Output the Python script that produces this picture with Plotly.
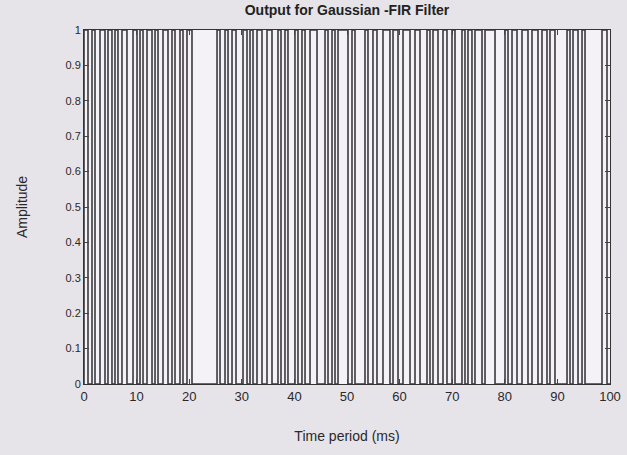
import plotly.graph_objects as go

# Transition times (ms) of the binary output
times = [0, 0.76, 1.52, 2.09, 3.04, 3.99, 4.56, 5.32, 5.89, 6.46, 7.22, 8.17, 9.32,
         10.08, 10.65, 11.22, 11.98, 12.93, 13.50, 14.07, 15.02, 15.97, 16.73, 17.30,
         18.25, 18.82, 19.58, 20.53, 21.10,
         25.29, 25.86, 26.81, 27.38, 28.14, 28.90, 30.23, 30.99, 31.56, 32.13, 32.89,
         33.84, 34.79, 35.74, 36.88, 37.45, 38.21, 38.78, 40.11, 40.68, 41.44, 42.02,
         42.97, 44.30, 45.82, 46.39, 47.15, 47.72, 48.29,
         50.19, 50.95, 51.52, 53.42, 53.99, 54.94, 55.70, 56.84, 58.17, 58.75, 59.70,
         60.65, 61.98, 62.93, 63.88, 65.21, 65.78, 66.35, 67.30, 68.25, 69.01, 69.96,
         70.53, 71.86, 72.43, 73.00, 73.76,
         74.33, 75.67, 76.24, 78.14, 80.04, 80.61, 81.37, 82.32, 83.27, 84.41, 85.17,
         86.31, 87.07, 88.02, 88.59, 89.54, 91.83, 92.40, 92.97, 93.92, 94.68, 95.25,
         98.48, 99.43, 100]
amplitude = [1, 0, 1, 0, 1, 0, 1, 0, 1, 0, 1, 0, 1,
             0, 1, 0, 1, 0, 1, 0, 1, 0, 1, 0,
             1, 0, 1, 0, 0,
             1, 0, 1, 0, 1, 0, 1, 0, 1, 0, 1,
             0, 1, 0, 1, 0, 1, 0, 1, 0, 1, 0,
             1, 0, 1, 0, 1, 0, 1,
             0, 1, 0, 1, 0, 1, 0, 1, 0, 1, 0,
             1, 0, 1, 0, 1, 0, 1, 0, 1, 0, 1,
             0, 1, 0, 1, 0,
             1, 0, 1, 0, 1, 0, 1, 0, 1, 0, 1,
             0, 1, 0, 1, 0, 1, 0, 1, 0, 1, 0,
             1, 0, 0]

x_ticks = [0, 10, 20, 30, 40, 50, 60, 70, 80, 90, 100]
y_ticks = [0, 0.1, 0.2, 0.3, 0.4, 0.5, 0.6, 0.7, 0.8, 0.9, 1]
y_tick_text = ["0", "0.1", "0.2", "0.3", "0.4", "0.5", "0.6", "0.7", "0.8", "0.9", "1"]

fig = go.Figure()
fig.add_trace(go.Scatter(
    x=[0] + times, y=[0] + amplitude, mode="lines", line_shape="hv",
    line=dict(color="#3c3a3e", width=1.6), showlegend=False, hoverinfo="skip"))

font = "Liberation Sans, Arial, sans-serif"
fig.update_layout(
    width=627, height=455,
    margin=dict(l=84, r=17, t=30, b=71, autoexpand=False),
    paper_bgcolor="#e6e4e8", plot_bgcolor="#f4f2f6",
    title=dict(text="<b>Output for Gaussian -FIR Filter</b>", x=0.5, xref="paper",
               xanchor="center", y=0.988, yanchor="top",
               font=dict(family=font, size=14, color="#222")),
    font=dict(family=font, size=12, color="#2a282c"),
)
fig.update_xaxes(range=[0, 100], tickvals=x_ticks, ticks="inside", ticklen=5,
                 showgrid=False, zeroline=False, showline=True, linecolor="#333",
                 linewidth=1, mirror="ticks", automargin=False,
                 title=dict(text="Time period (ms)", standoff=28), tickfont=dict(size=13))
fig.update_yaxes(range=[0, 1], tickvals=y_ticks, ticktext=y_tick_text, ticks="inside",
                 ticklen=5, showgrid=False, zeroline=False, showline=True, linecolor="#333",
                 linewidth=1, mirror="ticks", automargin=False,
                 title=dict(text="Amplitude", standoff=34), tickfont=dict(size=11))

fig.write_html("out.html")
